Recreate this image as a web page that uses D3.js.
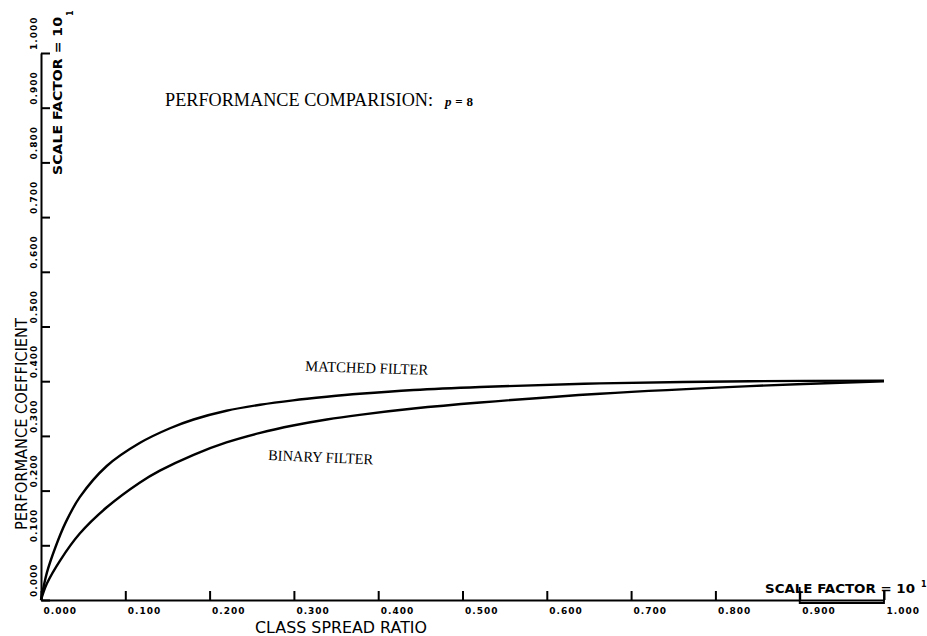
<!DOCTYPE html>
<html>
<head>
<meta charset="utf-8">
<script src="https://cdn.jsdelivr.net/npm/d3@7/dist/d3.min.js"></script>
<style>
  html, body { margin: 0; padding: 0; background: #fff; }
  svg { display: block; }
</style>
</head>
<body>
<svg id="chart" width="927" height="636"></svg>
<script>
// Class spread ratio samples and performance coefficients for each filter
const matchedX = [0, 0.007, 0.017, 0.029, 0.046, 0.078, 0.117, 0.153, 0.181, 0.220, 0.260, 0.299, 0.339, 0.378, 0.442, 0.521, 0.663, 0.841, 1.0];
const matchedY = [0, 0.050, 0.096, 0.141, 0.188, 0.245, 0.287, 0.314, 0.330, 0.346, 0.357, 0.365, 0.3715, 0.377, 0.384, 0.3895, 0.396, 0.400, 0.401];

const binaryX = [0, 0.007, 0.023, 0.046, 0.078, 0.117, 0.141, 0.181, 0.220, 0.260, 0.299, 0.339, 0.378, 0.442, 0.521, 0.663, 0.841, 1.0];
const binaryY = [0, 0.030, 0.073, 0.1215, 0.1695, 0.2145, 0.2365, 0.2655, 0.288, 0.3055, 0.319, 0.330, 0.3385, 0.350, 0.361, 0.377, 0.391, 0.400];

const xTicks = [0, 0.1, 0.2, 0.3, 0.4, 0.5, 0.6, 0.7, 0.8, 0.9, 1.0];
const yTicks = [0, 0.1, 0.2, 0.3, 0.4, 0.5, 0.6, 0.7, 0.8, 0.9, 1.0];

const svg = d3.select("#chart");

const x = d3.scaleLinear().domain([0, 1]).range([41, 884]);
const y = d3.scaleLinear().domain([0, 1]).range([600, 53]);

const tickFont = "'DejaVu Sans', sans-serif";

// X axis: ticks point up into the plot, labels start at each tick
const xAxis = svg.append("g")
  .attr("transform", `translate(0,${y(0)})`)
  .call(d3.axisBottom(x).tickValues(xTicks).tickSize(-9).tickSizeOuter(0)
    .tickPadding(8).tickFormat(d3.format(".3f")));
xAxis.select(".domain").attr("stroke", "#000").attr("stroke-width", 2);
xAxis.selectAll(".tick line").attr("stroke", "#000").attr("stroke-width", 2);
xAxis.selectAll(".tick text")
  .attr("text-anchor", "start").attr("x", 2)
  .attr("fill", "#000")
  .style("font-family", tickFont).style("font-weight", "bold")
  .style("font-size", "9px").style("letter-spacing", "1px");

// Y axis: ticks point right, labels drawn rotated beside the axis
const yAxis = svg.append("g")
  .attr("transform", `translate(${x(0)},0)`)
  .call(d3.axisLeft(y).tickValues(yTicks).tickSize(-9).tickSizeOuter(0)
    .tickFormat(""));
yAxis.select(".domain").attr("stroke", "#000").attr("stroke-width", 2);
yAxis.selectAll(".tick line").attr("stroke", "#000").attr("stroke-width", 2);

svg.append("g").selectAll("text")
  .data(yTicks)
  .join("text")
  .attr("transform", d => `translate(37,${y(d) - 3}) rotate(-90)`)
  .attr("text-anchor", "start")
  .style("font-family", tickFont).style("font-weight", "bold")
  .style("font-size", "9px").style("letter-spacing", "1px")
  .text(d => d3.format(".3f")(d));

// Scale-factor bracket along the last x interval
svg.append("path")
  .attr("d", `M${x(0.9)},${y(0) - 13} V${y(0) + 3} H${x(1.0)} V${y(0) - 9}`)
  .attr("fill", "none").attr("stroke", "#000").attr("stroke-width", 1.8);

// Curves
const line = d3.line()
  .x(d => x(d[0]))
  .y(d => y(d[1]))
  .curve(d3.curveCatmullRom.alpha(0.5));

const matched = d3.zip(matchedX, matchedY);
const binary = d3.zip(binaryX, binaryY);

svg.append("path").datum(matched)
  .attr("d", line).attr("fill", "none")
  .attr("stroke", "#000").attr("stroke-width", 2.4)
  .attr("stroke-linejoin", "round");
svg.append("path").datum(binary)
  .attr("d", line).attr("fill", "none")
  .attr("stroke", "#000").attr("stroke-width", 2.4)
  .attr("stroke-linejoin", "round");

// Axis titles
const plotFont = "'DejaVu Sans', sans-serif";
svg.append("text")
  .attr("x", 255).attr("y", 633)
  .attr("textLength", 172).attr("lengthAdjust", "spacingAndGlyphs")
  .style("font-family", plotFont).style("font-size", "15px")
  .text("CLASS SPREAD RATIO");

svg.append("text")
  .attr("transform", "translate(27,530) rotate(-90)")
  .attr("textLength", 212).attr("lengthAdjust", "spacingAndGlyphs")
  .style("font-family", plotFont).style("font-size", "15px")
  .text("PERFORMANCE COEFFICIENT");

// Scale factor notes
svg.append("text")
  .attr("x", 765).attr("y", 593)
  .attr("textLength", 150).attr("lengthAdjust", "spacingAndGlyphs")
  .style("font-family", plotFont).style("font-weight", "bold").style("font-size", "12px")
  .text("SCALE FACTOR = 10");
svg.append("text")
  .attr("x", 921).attr("y", 587)
  .style("font-family", plotFont).style("font-weight", "bold").style("font-size", "8px")
  .text("1");

svg.append("text")
  .attr("transform", "translate(62,175) rotate(-90)")
  .attr("textLength", 158).attr("lengthAdjust", "spacingAndGlyphs")
  .style("font-family", plotFont).style("font-weight", "bold").style("font-size", "13px")
  .text("SCALE FACTOR = 10");
svg.append("text")
  .attr("transform", "translate(73,16) rotate(-90)")
  .style("font-family", plotFont).style("font-weight", "bold").style("font-size", "8px")
  .text("1");

// Title
const serif = "'Liberation Serif', 'Times New Roman', serif";
svg.append("text")
  .attr("x", 165).attr("y", 106)
  .attr("textLength", 268).attr("lengthAdjust", "spacingAndGlyphs")
  .style("font-family", serif).style("font-size", "18px")
  .text("PERFORMANCE COMPARISION:");
svg.append("text")
  .attr("x", 445).attr("y", 106)
  .attr("textLength", 28).attr("lengthAdjust", "spacing")
  .style("font-family", serif).style("font-size", "13px").style("font-weight", "bold")
  .html("<tspan font-style='italic'>p</tspan> = 8");

// Curve labels
svg.append("text")
  .attr("transform", "translate(305,371) rotate(1.8)")
  .attr("textLength", 123).attr("lengthAdjust", "spacingAndGlyphs")
  .style("font-family", serif).style("font-size", "15px")
  .text("MATCHED FILTER");

svg.append("text")
  .attr("transform", "translate(268,460) rotate(2.4)")
  .attr("textLength", 105).attr("lengthAdjust", "spacingAndGlyphs")
  .style("font-family", serif).style("font-size", "15px")
  .text("BINARY FILTER");
</script>
</body>
</html>
